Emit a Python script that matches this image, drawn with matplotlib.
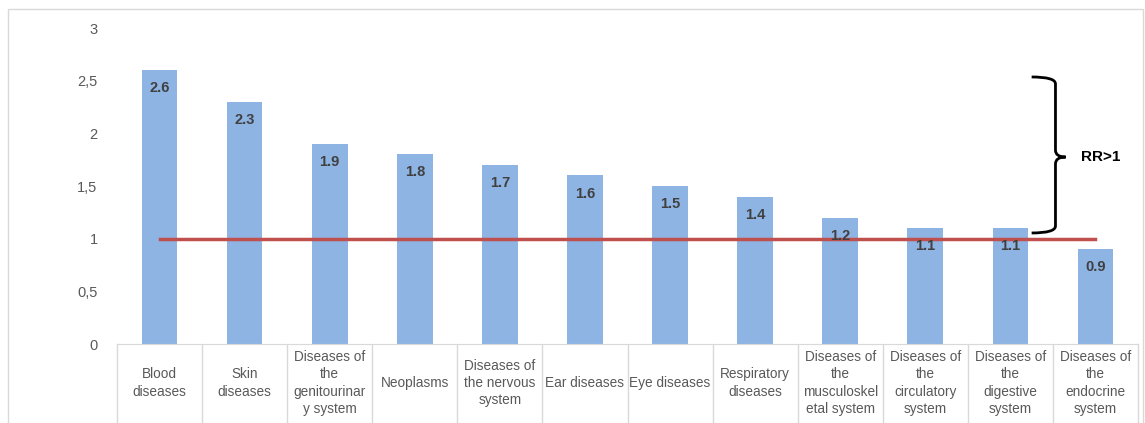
import matplotlib
matplotlib.use("Agg")
import matplotlib.pyplot as plt
from matplotlib.path import Path
from matplotlib.patches import PathPatch, Rectangle

categories = [
    "Blood\ndiseases", "Skin\ndiseases", "Diseases of\nthe\ngenitourinar\ny system",
    "Neoplasms", "Diseases of\nthe nervous\nsystem", "Ear diseases", "Eye diseases",
    "Respiratory\ndiseases", "Diseases of\nthe\nmusculoskel\netal system",
    "Diseases of\nthe\ncirculatory\nsystem", "Diseases of\nthe\ndigestive\nsystem",
    "Diseases of\nthe\nendocrine\nsystem",
]
rr_values = [2.6, 2.3, 1.9, 1.8, 1.7, 1.6, 1.5, 1.4, 1.2, 1.1, 1.1, 0.9]
value_labels = ["2.6", "2.3", "1.9", "1.8", "1.7", "1.6", "1.5", "1.4", "1.2", "1.1", "1.1", "0.9"]
y_ticks = [0, 0.5, 1, 1.5, 2, 2.5, 3]
y_tick_labels = ["0", "0,5", "1", "1,5", "2", "2,5", "3"]
reference_rr = 1.0

plt.rcParams['font.family'] = ['Liberation Sans', 'DejaVu Sans']

W, H = 1145, 423
fig = plt.figure(figsize=(W / 100, H / 100), dpi=100)
ax = fig.add_axes([117 / W, 79 / H, (1138 - 117) / W, 316 / H])

grid_col = "#D9D9D9"
text_col = "#595959"

# outer chart border
fig.patches.append(Rectangle((8 / W, -0.1), (1143 - 8) / W, (H - 9) / H + 0.1,
                             transform=fig.transFigure, fill=False,
                             edgecolor=grid_col, lw=1))

x = list(range(len(categories)))
ax.bar(x, rr_values, width=0.42, color="#8EB4E3", zorder=2)
ax.plot([x[0], x[-1]], [reference_rr, reference_rr], color="#C0504D", lw=2.5, zorder=3)

for xi, v, lab in zip(x, rr_values, value_labels):
    ax.annotate(lab, (xi, v), xytext=(0, -13), textcoords="offset points",
                ha="center", va="center", fontsize=10.5, fontweight="bold",
                color="#404040", zorder=4)

ax.set_xlim(-0.5, len(categories) - 0.5)
ax.set_ylim(0, 3)
ax.set_yticks(y_ticks)
ax.set_yticklabels(y_tick_labels, fontsize=10.5, color=text_col)
ax.tick_params(axis="y", length=0, pad=14)
ax.set_xticks([])
for s in ["top", "right", "left"]:
    ax.spines[s].set_visible(False)
ax.spines["bottom"].set_color(grid_col)

# category table under the axis
for b in [i - 0.5 for i in range(len(categories) + 1)]:
    ax.plot([b, b], [0, -0.3], transform=ax.get_xaxis_transform(),
            color=grid_col, lw=1, clip_on=False)
for xi, cat in zip(x, categories):
    ax.text(xi, -39 / 316, cat, transform=ax.get_xaxis_transform(),
            ha="center", va="center", fontsize=9.8, color=text_col,
            linespacing=1.28)

# brace marking RR>1
verts = [(10.25, 2.535), (10.53, 2.535), (10.53, 2.47),
         (10.53, 1.84), (10.53, 1.775), (10.65, 1.775),
         (10.53, 1.775), (10.53, 1.71),
         (10.53, 1.12), (10.53, 1.054), (10.25, 1.054)]
codes = [Path.MOVETO, Path.CURVE3, Path.CURVE3,
         Path.LINETO, Path.CURVE3, Path.CURVE3,
         Path.CURVE3, Path.CURVE3,
         Path.LINETO, Path.CURVE3, Path.CURVE3]
ax.add_patch(PathPatch(Path(verts, codes), fill=False, lw=2.0,
                       edgecolor="black", clip_on=False, zorder=5))
ax.text(10.83, 1.775, "RR>1", ha="left", va="center", fontsize=11,
        fontweight="bold", color="black")

fig.savefig("out.png", dpi=100)
